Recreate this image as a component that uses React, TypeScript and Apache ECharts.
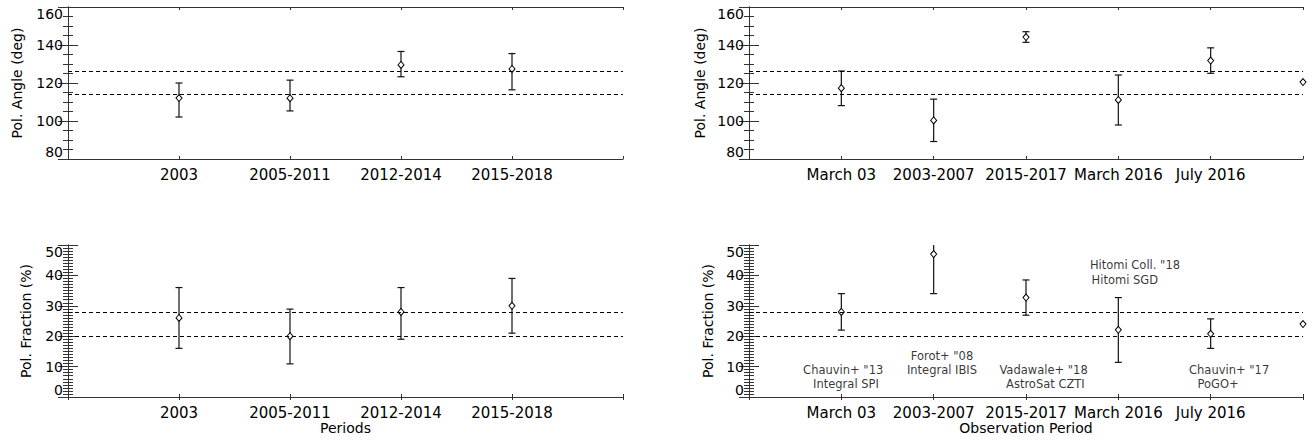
import React, { useEffect, useRef } from "react";
import * as echarts from "echarts";

// ---- data ----
const periodLabels = ["2003", "2005-2011", "2012-2014", "2015-2018"];
const observationLabels = ["March 03", "2003-2007", "2015-2017", "March 2016", "July 2016"];

const periodAngle = [112.1, 112.0, 129.5, 127.4];
const periodAngleLow = [102.1, 105.3, 123.3, 116.4];
const periodAngleHigh = [120.0, 121.5, 136.6, 135.5];

const periodFraction = [26, 20, 28, 30];
const periodFractionLow = [16, 10.9, 19, 21];
const periodFractionHigh = [36, 28.9, 36, 39];

const obsAngle = [117.3, 100.3, 144.2, 111.1, 131.8];
const obsAngleLow = [108.1, 89.2, 141.4, 97.9, 125.1];
const obsAngleHigh = [126.3, 111.5, 147.0, 124.2, 138.5];

const obsFraction = [28, 47, 32.7, 22.1, 20.8];
const obsFractionLow = [22, 34, 26.9, 11.4, 16];
const obsFractionHigh = [34, 61, 38.5, 32.7, 25.7];

const angleBand = [126.4, 114.3];
const fractionBand = [28, 20];

const edgeAngle = [6, 120.5];
const edgeFraction = [6, 24];

const annotations = [
  { x: 1.02, y: 8.8, text: 'Chauvin+ "13' },
  { x: 1.05, y: 4.2, text: "Integral SPI" },
  { x: 2.09, y: 13.4, text: 'Forot+ "08' },
  { x: 2.09, y: 8.8, text: "Integral IBIS" },
  { x: 3.19, y: 8.8, text: 'Vadawale+ "18' },
  { x: 3.21, y: 4.2, text: "AstroSat CZTI" },
  { x: 4.18, y: 43.5, text: 'Hitomi Coll. "18' },
  { x: 4.07, y: 38.5, text: "Hitomi SGD" },
  { x: 5.2, y: 8.8, text: 'Chauvin+ "17' },
  { x: 5.08, y: 4.2, text: "PoGO+" },
];

const FONT = "DejaVu Sans";
const AXIS_COLOR = "#333";

function App() {
  const ref = useRef<HTMLDivElement>(null);

  useEffect(() => {
    if (!ref.current) return;
    const chart = echarts.init(ref.current, null, { renderer: "svg" });

    const grids = [
      { left: 68, top: 7, width: 555, height: 152 },
      { left: 749, top: 7, width: 554, height: 152 },
      { left: 68, top: 245, width: 555, height: 152 },
      { left: 749, top: 245, width: 554, height: 152 },
    ];

    const panels = [
      { labels: periodLabels, max: 5, ymin: 80, ymax: 160, yint: 20, minor: 4, yname: "Pol. Angle (deg)", xname: "", ygap: 44 },
      { labels: observationLabels, max: 6, ymin: 80, ymax: 160, yint: 20, minor: 4, yname: "Pol. Angle (deg)", xname: "", ygap: 42 },
      { labels: periodLabels, max: 5, ymin: 0, ymax: 50, yint: 10, minor: 10, yname: "Pol. Fraction (%)", xname: "Periods", ygap: 35 },
      { labels: observationLabels, max: 6, ymin: 0, ymax: 50, yint: 10, minor: 10, yname: "Pol. Fraction (%)", xname: "Observation Period", ygap: 34 },
    ];

    const lineStyle = { color: AXIS_COLOR, width: 1 };

    const xAxis: any[] = [];
    const yAxis: any[] = [];
    panels.forEach((p, g) => {
      xAxis.push({
        type: "value",
        gridIndex: g,
        position: "bottom",
        min: 0,
        max: p.max,
        interval: 1,
        splitLine: { show: false },
        axisLine: { show: true, lineStyle },
        axisTick: { show: true, inside: true, length: 3, lineStyle },
        axisLabel: {
          show: true,
          color: "#000",
          fontFamily: FONT,
          fontSize: 15,
          margin: 8,
          formatter: (v: number) => p.labels[v - 1] ?? "",
        },
        name: p.xname,
        nameLocation: "middle",
        nameGap: 20,
        nameTextStyle: { color: "#000", fontFamily: FONT, fontSize: 14 },
      });
      xAxis.push({
        type: "value",
        gridIndex: g,
        position: "top",
        min: 0,
        max: p.max,
        interval: 1,
        splitLine: { show: false },
        axisLine: { show: true, lineStyle },
        axisTick: { show: true, inside: true, length: 3, lineStyle },
        axisLabel: { show: false },
      });
      yAxis.push({
        type: "value",
        gridIndex: g,
        position: "left",
        min: p.ymin,
        max: p.ymax,
        interval: p.yint,
        splitLine: { show: false },
        axisLine: { show: true, lineStyle },
        axisTick: { show: true, inside: true, length: 10, lineStyle },
        minorTick: { show: true, splitNumber: p.minor, length: 5, lineStyle },
        axisLabel: {
          show: true,
          color: "#000",
          fontFamily: FONT,
          fontSize: 14,
          margin: 5,
          verticalAlignMinLabel: "bottom",
          verticalAlignMaxLabel: "top",
        },
        name: p.yname,
        nameLocation: "middle",
        nameGap: p.ygap,
        nameTextStyle: { color: "#000", fontFamily: FONT, fontSize: 14 },
      });
      yAxis.push({
        type: "value",
        gridIndex: g,
        position: "right",
        min: p.ymin,
        max: p.ymax,
        interval: p.yint,
        splitLine: { show: false },
        axisLine: { show: true, lineStyle },
        axisTick: { show: true, inside: true, length: 10, lineStyle },
        minorTick: { show: true, splitNumber: p.minor, length: 5, lineStyle },
        axisLabel: { show: false },
      });
    });

    const errorBarSeries = (g: number, low: number[], high: number[]) => ({
      type: "custom",
      xAxisIndex: 2 * g,
      yAxisIndex: 2 * g,
      clip: true,
      silent: true,
      data: low.map((lo, i) => [i + 1, lo, high[i]]),
      encode: { x: 0, y: [1, 2] },
      renderItem: (params: any, api: any) => {
        const x = api.value(0);
        const p1 = api.coord([x, api.value(1)]);
        const p2 = api.coord([x, api.value(2)]);
        const w = 3.5;
        const st = { stroke: "#111", lineWidth: 1.2 };
        return {
          type: "group",
          children: [
            { type: "line", shape: { x1: p1[0], y1: p1[1], x2: p2[0], y2: p2[1] }, style: st },
            { type: "line", shape: { x1: p1[0] - w, y1: p1[1], x2: p1[0] + w, y2: p1[1] }, style: st },
            { type: "line", shape: { x1: p2[0] - w, y1: p2[1], x2: p2[0] + w, y2: p2[1] }, style: st },
          ],
        };
      },
    });

    const pointSeries = (g: number, values: number[], band: number[], extra?: number[]) => ({
      type: "scatter",
      xAxisIndex: 2 * g,
      yAxisIndex: 2 * g,
      symbol: "diamond",
      symbolSize: [6, 7],
      clip: true,
      silent: true,
      itemStyle: { color: "#fff", borderColor: "#000", borderWidth: 1, opacity: 1 },
      data: extra ? [...values.map((v, i) => [i + 1, v]), extra] : values.map((v, i) => [i + 1, v]),
      markLine: {
        silent: true,
        symbol: "none",
        label: { show: false },
        lineStyle: { type: [4, 3], color: "#000", width: 1 },
        data: band.map((b) => ({ yAxis: b })),
      },
      z: 3,
    });

    const series: any[] = [
      errorBarSeries(0, periodAngleLow, periodAngleHigh),
      pointSeries(0, periodAngle, angleBand),
      errorBarSeries(1, obsAngleLow, obsAngleHigh),
      pointSeries(1, obsAngle, angleBand, edgeAngle),
      errorBarSeries(2, periodFractionLow, periodFractionHigh),
      pointSeries(2, periodFraction, fractionBand),
      errorBarSeries(3, obsFractionLow, obsFractionHigh),
      pointSeries(3, obsFraction, fractionBand, edgeFraction),
      {
        type: "scatter",
        xAxisIndex: 6,
        yAxisIndex: 6,
        symbolSize: 0,
        silent: true,
        data: annotations.map((a) => ({ value: [a.x, a.y], name: a.text })),
        label: {
          show: true,
          position: "inside",
          formatter: "{b}",
          color: "#000",
          fontFamily: FONT,
          fontSize: 11.5,
          align: "center",
          verticalAlign: "middle",
        },
      },
    ];

    chart.setOption({
      animation: false,
      backgroundColor: "#fff",
      textStyle: { fontFamily: FONT },
      grid: grids,
      xAxis,
      yAxis,
      series,
    });

    return () => chart.dispose();
  }, []);

  return (
    <div
      ref={ref}
      style={{ position: "fixed", left: 0, top: 0, width: 1313, height: 444, background: "#fff" }}
    />
  );
}

export default App;
